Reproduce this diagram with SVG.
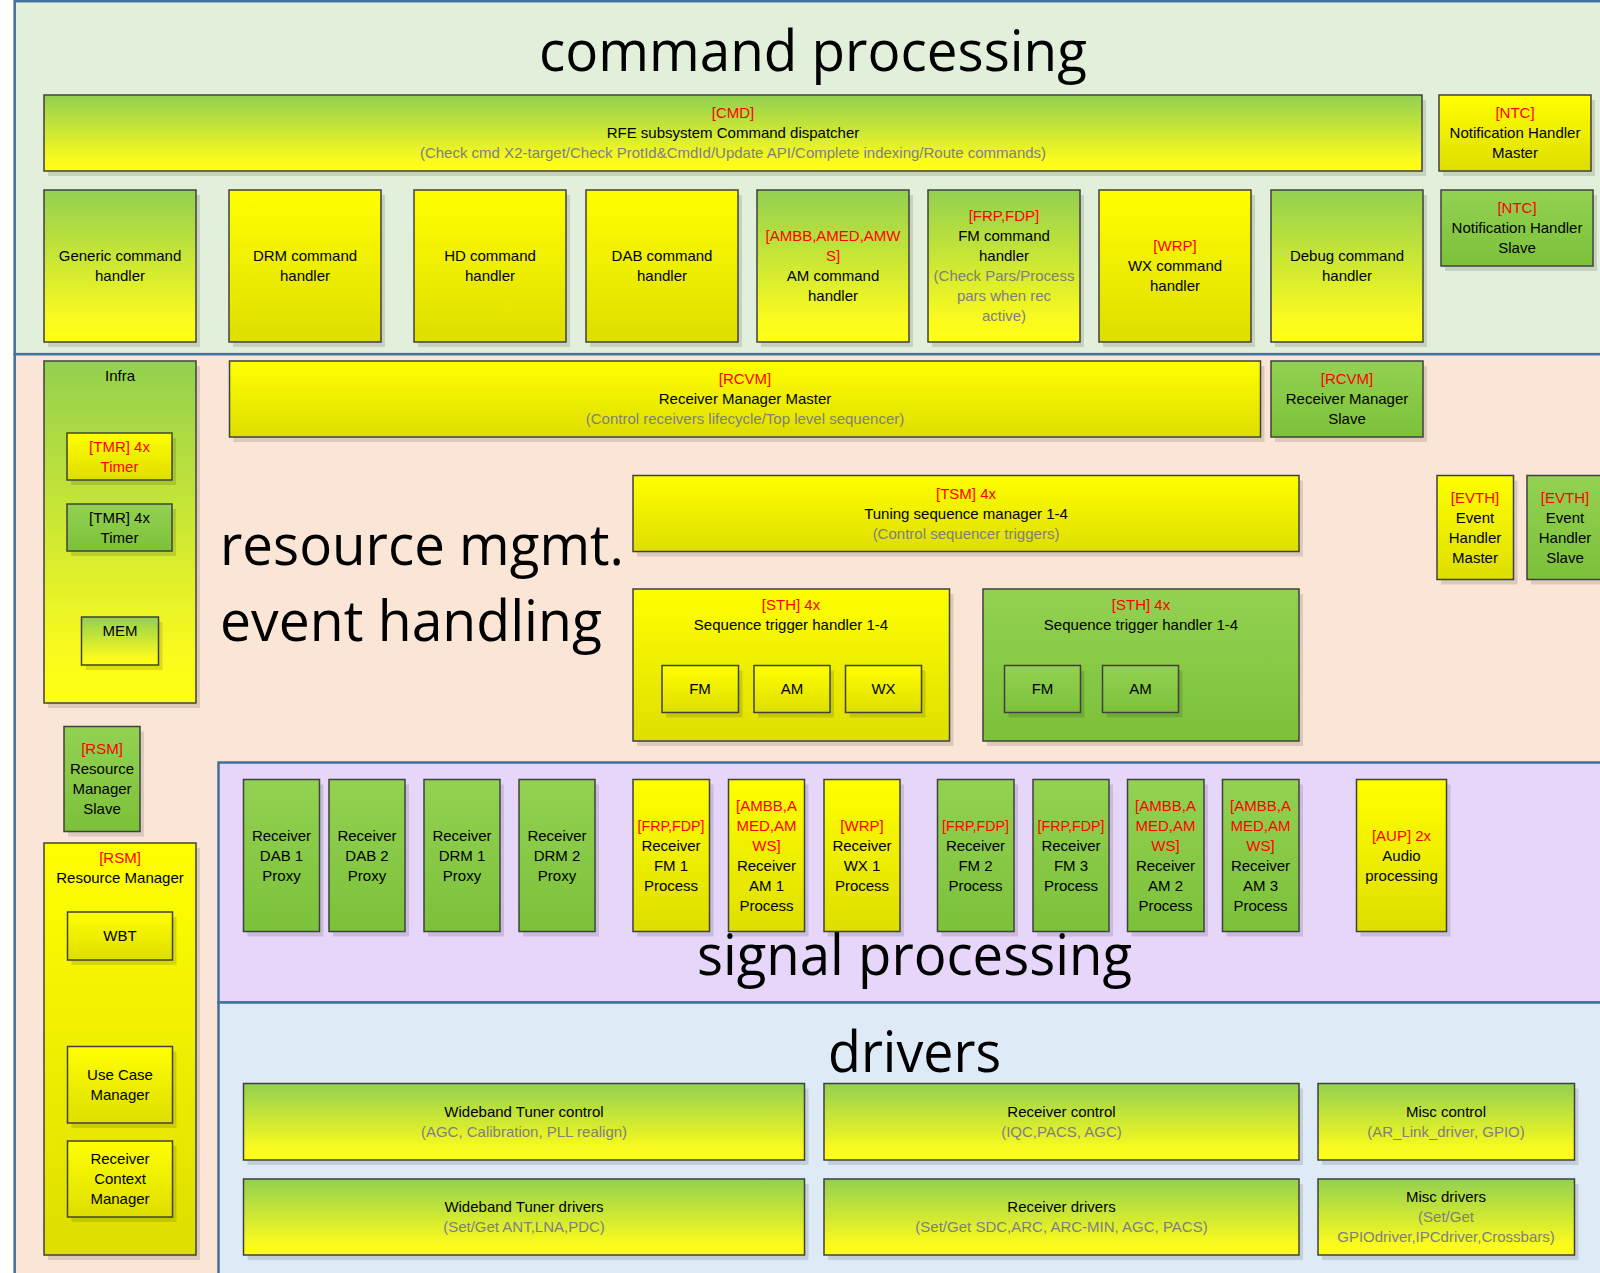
<svg xmlns="http://www.w3.org/2000/svg" width="1600" height="1273" viewBox="0 0 1600 1273">
<defs>
<linearGradient id="gy" x1="0" y1="0" x2="0" y2="1"><stop offset="0" stop-color="#92D050"/><stop offset="0.85" stop-color="#FAFA1E"/><stop offset="1" stop-color="#FFFF14"/></linearGradient>
<linearGradient id="yy" x1="0" y1="0" x2="0" y2="1"><stop offset="0" stop-color="#FFFF00"/><stop offset="1" stop-color="#DEDE00"/></linearGradient>
<linearGradient id="gg" x1="0" y1="0" x2="0" y2="1"><stop offset="0" stop-color="#93D152"/><stop offset="1" stop-color="#7CC13A"/></linearGradient>
<style>
.band{stroke:#41719C;stroke-width:2.5}
.sh{fill:#000;opacity:0.12}
.b{stroke:#404040;stroke-width:1.5}
.gy{fill:url(#gy)}.yy{fill:url(#yy)}.gg{fill:url(#gg)}
text{font-family:"Liberation Sans",Arial,sans-serif;font-size:15px;text-anchor:middle;fill:#000}
.r{fill:#FF0000}.g{fill:#7F7F7F}
.big{font-family:"Open Sans","Noto Sans",sans-serif;font-size:56px;text-anchor:start;fill:#000}
</style>
</defs>
<rect x="0" y="0" width="1600" height="1273" fill="#FFFFFF"/>
<g id="bands">
<rect class="band" x="14.7" y="1.2" width="1600" height="353" fill="#E2EFDA"/>
<rect class="band" x="14.7" y="354.2" width="1600" height="930" fill="#FBE5D6"/>
<rect class="band" x="218.5" y="762.5" width="1400" height="240" fill="#E5D6FA"/>
<rect class="band" x="218.5" y="1002.5" width="1400" height="290" fill="#DEEBF7"/>
</g>
<g id="titles">
<text class="big" x="539" y="71" textLength="548" lengthAdjust="spacingAndGlyphs">command processing</text>
<text class="big" x="220" y="565" textLength="404" lengthAdjust="spacingAndGlyphs">resource mgmt.</text>
<text class="big" x="220" y="641" textLength="382" lengthAdjust="spacingAndGlyphs">event handling</text>
<text class="big" x="697" y="975" textLength="435" lengthAdjust="spacingAndGlyphs">signal processing</text>
<text class="big" x="828" y="1071.5" textLength="173" lengthAdjust="spacingAndGlyphs">drivers</text>
</g>
<g id="connectors"/>

<g id="cmd"><rect class="sh" x="48" y="100" width="1378" height="76"/><rect class="b gy" x="44" y="95" width="1378" height="76"/>
<text class="r" x="733" y="118">[CMD]</text><text x="733" y="138">RFE subsystem Command dispatcher</text><text class="g" x="733" y="158">(Check cmd X2-target/Check ProtId&amp;CmdId/Update API/Complete indexing/Route commands)</text></g>
<g id="ntc-master"><rect class="sh" x="1443" y="100" width="152" height="76"/><rect class="b yy" x="1439" y="95" width="152" height="76"/>
<text class="r" x="1515" y="118">[NTC]</text><text x="1515" y="138">Notification Handler</text><text x="1515" y="158">Master</text></g>
<g id="generic-cmd"><rect class="sh" x="48" y="195" width="152" height="152"/><rect class="b gy" x="44" y="190" width="152" height="152"/>
<text x="120" y="261">Generic command</text><text x="120" y="281">handler</text></g>
<g id="drm-cmd"><rect class="sh" x="233" y="195" width="152" height="152"/><rect class="b yy" x="229" y="190" width="152" height="152"/>
<text x="305" y="261">DRM command</text><text x="305" y="281">handler</text></g>
<g id="hd-cmd"><rect class="sh" x="418" y="195" width="152" height="152"/><rect class="b yy" x="414" y="190" width="152" height="152"/>
<text x="490" y="261">HD command</text><text x="490" y="281">handler</text></g>
<g id="dab-cmd"><rect class="sh" x="590" y="195" width="152" height="152"/><rect class="b yy" x="586" y="190" width="152" height="152"/>
<text x="662" y="261">DAB command</text><text x="662" y="281">handler</text></g>
<g id="am-cmd"><rect class="sh" x="761" y="195" width="152" height="152"/><rect class="b gy" x="757" y="190" width="152" height="152"/>
<text class="r" x="833" y="241">[AMBB,AMED,AMW</text><text class="r" x="833" y="261">S]</text><text x="833" y="281">AM command</text><text x="833" y="301">handler</text></g>
<g id="fm-cmd"><rect class="sh" x="932" y="195" width="152" height="152"/><rect class="b gy" x="928" y="190" width="152" height="152"/>
<text class="r" x="1004" y="221">[FRP,FDP]</text><text x="1004" y="241">FM command</text><text x="1004" y="261">handler</text><text class="g" x="1004" y="281">(Check Pars/Process</text><text class="g" x="1004" y="301">pars when rec</text><text class="g" x="1004" y="321">active)</text></g>
<g id="wx-cmd"><rect class="sh" x="1103" y="195" width="152" height="152"/><rect class="b yy" x="1099" y="190" width="152" height="152"/>
<text class="r" x="1175" y="251">[WRP]</text><text x="1175" y="271">WX command</text><text x="1175" y="291">handler</text></g>
<g id="debug-cmd"><rect class="sh" x="1275" y="195" width="152" height="152"/><rect class="b gy" x="1271" y="190" width="152" height="152"/>
<text x="1347" y="261">Debug command</text><text x="1347" y="281">handler</text></g>
<g id="ntc-slave"><rect class="sh" x="1445" y="195" width="152" height="76"/><rect class="b gg" x="1441" y="190" width="152" height="76"/>
<text class="r" x="1517" y="213">[NTC]</text><text x="1517" y="233">Notification Handler</text><text x="1517" y="253">Slave</text></g>

<g id="infra"><rect class="sh" x="48" y="366" width="152" height="342"/><rect class="b gy" x="44" y="361" width="152" height="342"/>
<text x="120" y="381">Infra</text>
<g id="tmr-master"><rect class="sh" x="71" y="438" width="105" height="47"/><rect class="b yy" x="67" y="433" width="105" height="47"/>
<text class="r" x="119.5" y="451.5">[TMR] 4x</text><text class="r" x="119.5" y="471.5">Timer</text></g>
<g id="tmr-slave"><rect class="sh" x="71" y="509" width="105" height="47"/><rect class="b gg" x="67" y="504" width="105" height="47"/>
<text x="119.5" y="522.5">[TMR] 4x</text><text x="119.5" y="542.5">Timer</text></g>
<g id="mem"><rect class="sh" x="85.5" y="622" width="77" height="48"/><rect class="b gy" x="81.5" y="617" width="77" height="48"/>
<text x="120" y="636">MEM</text></g>
</g>
<g id="rsm-slave"><rect class="sh" x="68" y="731.5" width="76" height="105"/><rect class="b gg" x="64" y="726.5" width="76" height="105"/>
<text class="r" x="102" y="754">[RSM]</text><text x="102" y="774">Resource</text><text x="102" y="794">Manager</text><text x="102" y="814">Slave</text></g>
<g id="rsm"><rect class="sh" x="48" y="848" width="152" height="412"/><rect class="b yy" x="44" y="843" width="152" height="412"/>
<text class="r" x="120" y="862.5">[RSM]</text><text x="120" y="883">Resource Manager</text>
<g id="wbt"><rect class="sh" x="71.5" y="917" width="105" height="48"/><rect class="b yy" x="67.5" y="912" width="105" height="48"/>
<text x="120" y="941">WBT</text></g>
<g id="use-case-manager"><rect class="sh" x="71.5" y="1051.5" width="105" height="76.5"/><rect class="b yy" x="67.5" y="1046.5" width="105" height="76.5"/>
<text x="120" y="1080">Use Case</text><text x="120" y="1100">Manager</text></g>
<g id="receiver-context-manager"><rect class="sh" x="71.5" y="1146" width="105" height="76"/><rect class="b yy" x="67.5" y="1141" width="105" height="76"/>
<text x="120" y="1164">Receiver</text><text x="120" y="1184">Context</text><text x="120" y="1204">Manager</text></g>
</g>
<g id="rcvm-master"><rect class="sh" x="233.5" y="366" width="1031" height="76"/><rect class="b yy" x="229.5" y="361" width="1031" height="76"/>
<text class="r" x="745" y="384">[RCVM]</text><text x="745" y="404">Receiver Manager Master</text><text class="g" x="745" y="424">(Control receivers lifecycle/Top level sequencer)</text></g>
<g id="rcvm-slave"><rect class="sh" x="1275" y="366" width="152" height="76"/><rect class="b gg" x="1271" y="361" width="152" height="76"/>
<text class="r" x="1347" y="384">[RCVM]</text><text x="1347" y="404">Receiver Manager</text><text x="1347" y="424">Slave</text></g>
<g id="tsm"><rect class="sh" x="637" y="480.5" width="666" height="76"/><rect class="b yy" x="633" y="475.5" width="666" height="76"/>
<text class="r" x="966" y="498.5">[TSM] 4x</text><text x="966" y="518.5">Tuning sequence manager 1-4</text><text class="g" x="966" y="538.5">(Control sequencer triggers)</text></g>
<g id="evth-master"><rect class="sh" x="1441" y="480.5" width="76.5" height="104"/><rect class="b yy" x="1437" y="475.5" width="76.5" height="104"/>
<text class="r" x="1475" y="502.5">[EVTH]</text><text x="1475" y="522.5">Event</text><text x="1475" y="542.5">Handler</text><text x="1475" y="562.5">Master</text></g>
<g id="evth-slave"><rect class="sh" x="1531" y="480.5" width="76.5" height="104"/><rect class="b gg" x="1527" y="475.5" width="76.5" height="104"/>
<text class="r" x="1565" y="502.5">[EVTH]</text><text x="1565" y="522.5">Event</text><text x="1565" y="542.5">Handler</text><text x="1565" y="562.5">Slave</text></g>
<g id="sth-master"><rect class="sh" x="637" y="594" width="316.5" height="152"/><rect class="b yy" x="633" y="589" width="316.5" height="152"/>
<text class="r" x="791" y="609.5">[STH] 4x</text><text x="791" y="629.5">Sequence trigger handler 1-4</text>
<g id="sth-master-fm"><rect class="sh" x="666" y="670.5" width="76.5" height="47"/><rect class="b yy" x="662" y="665.5" width="76.5" height="47"/><text x="700" y="694">FM</text></g>
<g id="sth-master-am"><rect class="sh" x="758" y="670.5" width="76" height="47"/><rect class="b yy" x="754" y="665.5" width="76" height="47"/><text x="792" y="694">AM</text></g>
<g id="sth-master-wx"><rect class="sh" x="849.5" y="670.5" width="76" height="47"/><rect class="b yy" x="845.5" y="665.5" width="76" height="47"/><text x="883.5" y="694">WX</text></g>
</g>
<g id="sth-slave"><rect class="sh" x="987" y="594" width="316" height="152"/><rect class="b gg" x="983" y="589" width="316" height="152"/>
<text class="r" x="1141" y="609.5">[STH] 4x</text><text x="1141" y="629.5">Sequence trigger handler 1-4</text>
<g id="sth-slave-fm"><rect class="sh" x="1008.5" y="670.5" width="76" height="47"/><rect class="b gg" x="1004.5" y="665.5" width="76" height="47"/><text x="1042.5" y="694">FM</text></g>
<g id="sth-slave-am"><rect class="sh" x="1106.5" y="670.5" width="76" height="47"/><rect class="b gg" x="1102.5" y="665.5" width="76" height="47"/><text x="1140.5" y="694">AM</text></g>
</g>

<g id="rx-dab1"><rect class="sh" x="247.5" y="784.5" width="76" height="152"/><rect class="b gg" x="243.5" y="779.5" width="76" height="152"/>
<text x="281.5" y="840.5">Receiver</text><text x="281.5" y="860.5">DAB 1</text><text x="281.5" y="880.5">Proxy</text></g>
<g id="rx-dab2"><rect class="sh" x="333" y="784.5" width="76" height="152"/><rect class="b gg" x="329" y="779.5" width="76" height="152"/>
<text x="367" y="840.5">Receiver</text><text x="367" y="860.5">DAB 2</text><text x="367" y="880.5">Proxy</text></g>
<g id="rx-drm1"><rect class="sh" x="428" y="784.5" width="76" height="152"/><rect class="b gg" x="424" y="779.5" width="76" height="152"/>
<text x="462" y="840.5">Receiver</text><text x="462" y="860.5">DRM 1</text><text x="462" y="880.5">Proxy</text></g>
<g id="rx-drm2"><rect class="sh" x="523" y="784.5" width="76" height="152"/><rect class="b gg" x="519" y="779.5" width="76" height="152"/>
<text x="557" y="840.5">Receiver</text><text x="557" y="860.5">DRM 2</text><text x="557" y="880.5">Proxy</text></g>
<g id="rx-fm1"><rect class="sh" x="637" y="784.5" width="76.5" height="152"/><rect class="b yy" x="633" y="779.5" width="76.5" height="152"/>
<text class="r" x="671" y="830.5" textLength="67" lengthAdjust="spacingAndGlyphs">[FRP,FDP]</text><text x="671" y="850.5">Receiver</text><text x="671" y="870.5">FM 1</text><text x="671" y="890.5">Process</text></g>
<g id="rx-am1"><rect class="sh" x="732.5" y="784.5" width="76" height="152"/><rect class="b yy" x="728.5" y="779.5" width="76" height="152"/>
<text class="r" x="766.5" y="810.5">[AMBB,A</text><text class="r" x="766.5" y="830.5">MED,AM</text><text class="r" x="766.5" y="850.5">WS]</text><text x="766.5" y="870.5">Receiver</text><text x="766.5" y="890.5">AM 1</text><text x="766.5" y="910.5">Process</text></g>
<g id="rx-wx1"><rect class="sh" x="828" y="784.5" width="76" height="152"/><rect class="b yy" x="824" y="779.5" width="76" height="152"/>
<text class="r" x="862" y="830.5">[WRP]</text><text x="862" y="850.5">Receiver</text><text x="862" y="870.5">WX 1</text><text x="862" y="890.5">Process</text></g>
<g id="rx-fm2"><rect class="sh" x="941.5" y="784.5" width="76.5" height="152"/><rect class="b gg" x="937.5" y="779.5" width="76.5" height="152"/>
<text class="r" x="975.5" y="830.5" textLength="67" lengthAdjust="spacingAndGlyphs">[FRP,FDP]</text><text x="975.5" y="850.5">Receiver</text><text x="975.5" y="870.5">FM 2</text><text x="975.5" y="890.5">Process</text></g>
<g id="rx-fm3"><rect class="sh" x="1037" y="784.5" width="76" height="152"/><rect class="b gg" x="1033" y="779.5" width="76" height="152"/>
<text class="r" x="1071" y="830.5" textLength="67" lengthAdjust="spacingAndGlyphs">[FRP,FDP]</text><text x="1071" y="850.5">Receiver</text><text x="1071" y="870.5">FM 3</text><text x="1071" y="890.5">Process</text></g>
<g id="rx-am2"><rect class="sh" x="1131.5" y="784.5" width="76.5" height="152"/><rect class="b gg" x="1127.5" y="779.5" width="76.5" height="152"/>
<text class="r" x="1165.5" y="810.5">[AMBB,A</text><text class="r" x="1165.5" y="830.5">MED,AM</text><text class="r" x="1165.5" y="850.5">WS]</text><text x="1165.5" y="870.5">Receiver</text><text x="1165.5" y="890.5">AM 2</text><text x="1165.5" y="910.5">Process</text></g>
<g id="rx-am3"><rect class="sh" x="1226.5" y="784.5" width="76.5" height="152"/><rect class="b gg" x="1222.5" y="779.5" width="76.5" height="152"/>
<text class="r" x="1260.5" y="810.5">[AMBB,A</text><text class="r" x="1260.5" y="830.5">MED,AM</text><text class="r" x="1260.5" y="850.5">WS]</text><text x="1260.5" y="870.5">Receiver</text><text x="1260.5" y="890.5">AM 3</text><text x="1260.5" y="910.5">Process</text></g>
<g id="aup"><rect class="sh" x="1360.5" y="784.5" width="90" height="152"/><rect class="b yy" x="1356.5" y="779.5" width="90" height="152"/>
<text class="r" x="1401.5" y="840.5">[AUP] 2x</text><text x="1401.5" y="860.5">Audio</text><text x="1401.5" y="880.5">processing</text></g>

<g id="wb-tuner-control"><rect class="sh" x="247.5" y="1088.5" width="561" height="76.5"/><rect class="b gy" x="243.5" y="1083.5" width="561" height="76.5"/>
<text x="524" y="1116.5">Wideband Tuner control</text><text class="g" x="524" y="1136.5">(AGC, Calibration, PLL realign)</text></g>
<g id="receiver-control"><rect class="sh" x="828" y="1088.5" width="475" height="76.5"/><rect class="b gy" x="824" y="1083.5" width="475" height="76.5"/>
<text x="1061.5" y="1116.5">Receiver control</text><text class="g" x="1061.5" y="1136.5">(IQC,PACS, AGC)</text></g>
<g id="misc-control"><rect class="sh" x="1322" y="1088.5" width="256.5" height="76.5"/><rect class="b gy" x="1318" y="1083.5" width="256.5" height="76.5"/>
<text x="1446" y="1116.5">Misc control</text><text class="g" x="1446" y="1136.5">(AR_Link_driver, GPIO)</text></g>
<g id="wb-tuner-drivers"><rect class="sh" x="247.5" y="1184" width="561" height="76"/><rect class="b gy" x="243.5" y="1179" width="561" height="76"/>
<text x="524" y="1212">Wideband Tuner drivers</text><text class="g" x="524" y="1232">(Set/Get ANT,LNA,PDC)</text></g>
<g id="receiver-drivers"><rect class="sh" x="828" y="1184" width="475" height="76"/><rect class="b gy" x="824" y="1179" width="475" height="76"/>
<text x="1061.5" y="1212">Receiver drivers</text><text class="g" x="1061.5" y="1232">(Set/Get SDC,ARC, ARC-MIN, AGC, PACS)</text></g>
<g id="misc-drivers"><rect class="sh" x="1322" y="1184" width="256.5" height="76"/><rect class="b gy" x="1318" y="1179" width="256.5" height="76"/>
<text x="1446" y="1202">Misc drivers</text><text class="g" x="1446" y="1222">(Set/Get</text><text class="g" x="1446" y="1242">GPIOdriver,IPCdriver,Crossbars)</text></g>
</svg>
